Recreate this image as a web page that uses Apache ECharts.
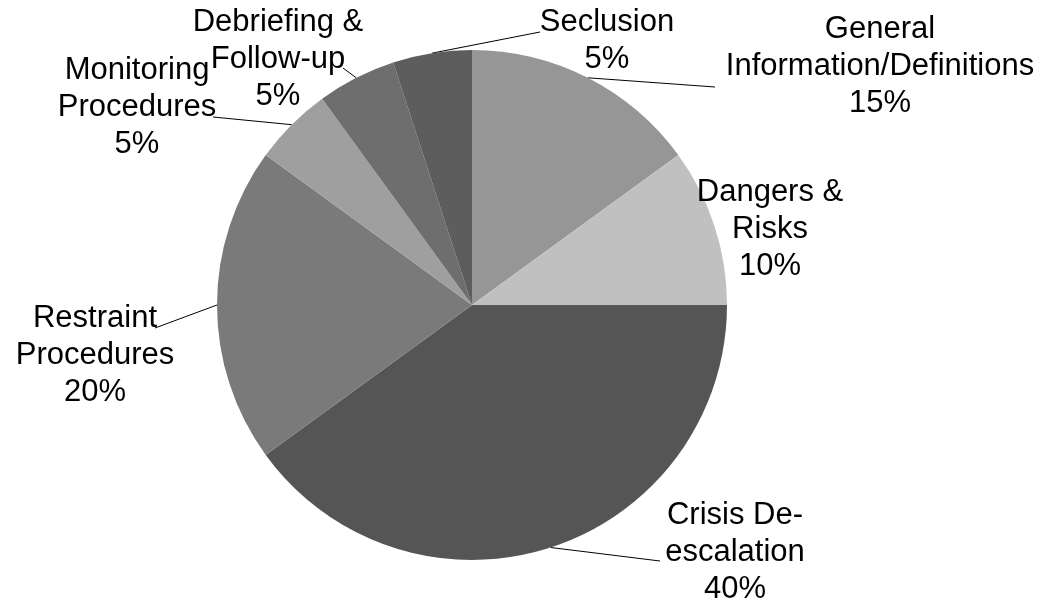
<!DOCTYPE html>
<html><head><meta charset="utf-8">
<script src="https://cdn.jsdelivr.net/npm/echarts@6/dist/echarts.min.js"></script>
<style>html,body{margin:0;padding:0;background:#fff}#c{width:1053px;height:602px}</style>
</head><body><div id="c"></div>
<script>
const categories = ['General\nInformation/Definitions','Dangers &\nRisks','Crisis De-\nescalation','Restraint\nProcedures','Monitoring\nProcedures','Debriefing &\nFollow-up','Seclusion'];
const values = [15, 10, 40, 20, 5, 5, 5];
const colors = ['#969696','#c0c0c0','#555555','#7a7a7a','#9f9f9f','#6e6e6e','#5d5d5d'];
// label layout (block centre) and leader-line end points near each label
const labelCenters = [[880,66],[770,229],[735,552],[95,355],[137,107],[278,59],[607,41]];
const leaderEnds = [[715,87],null,[660,561],[155,328],[213,117],[343,68],[540,32]];

const chart = echarts.init(document.getElementById('c'), null, {renderer:'canvas'});
chart.setOption({
  animation:false,
  series:[{
    type:'pie',
    center:[472,305],
    radius:255,
    startAngle:90,
    clockwise:true,
    data: categories.map((n,i)=>({name:n, value:values[i], itemStyle:{color:colors[i]}, labelLine:{show:leaderEnds[i]!==null}})),
    label:{show:true, position:'outside', formatter:'{b}\n{c}%', color:'#000', fontFamily:'Liberation Sans, Arial, sans-serif', fontSize:31, lineHeight:37, align:'center'},
    labelLine:{show:true, lineStyle:{color:'#000', width:1}, length:10, length2:10},
    labelLayout: function(p){
      const i = p.dataIndex;
      const c = labelCenters[i];
      const o = {x:c[0], y:c[1], align:'center', verticalAlign:'middle', hideOverlap:false, moveOverlap:null};
      const e = leaderEnds[i];
      if (e && p.labelLinePoints) {
        const s = p.labelLinePoints[0];
        o.labelLinePoints = [[s[0],s[1]],[e[0],e[1]],[e[0],e[1]]];
      }
      return o;
    },
    itemStyle:{borderWidth:0}
  }]
});
</script></body></html>
